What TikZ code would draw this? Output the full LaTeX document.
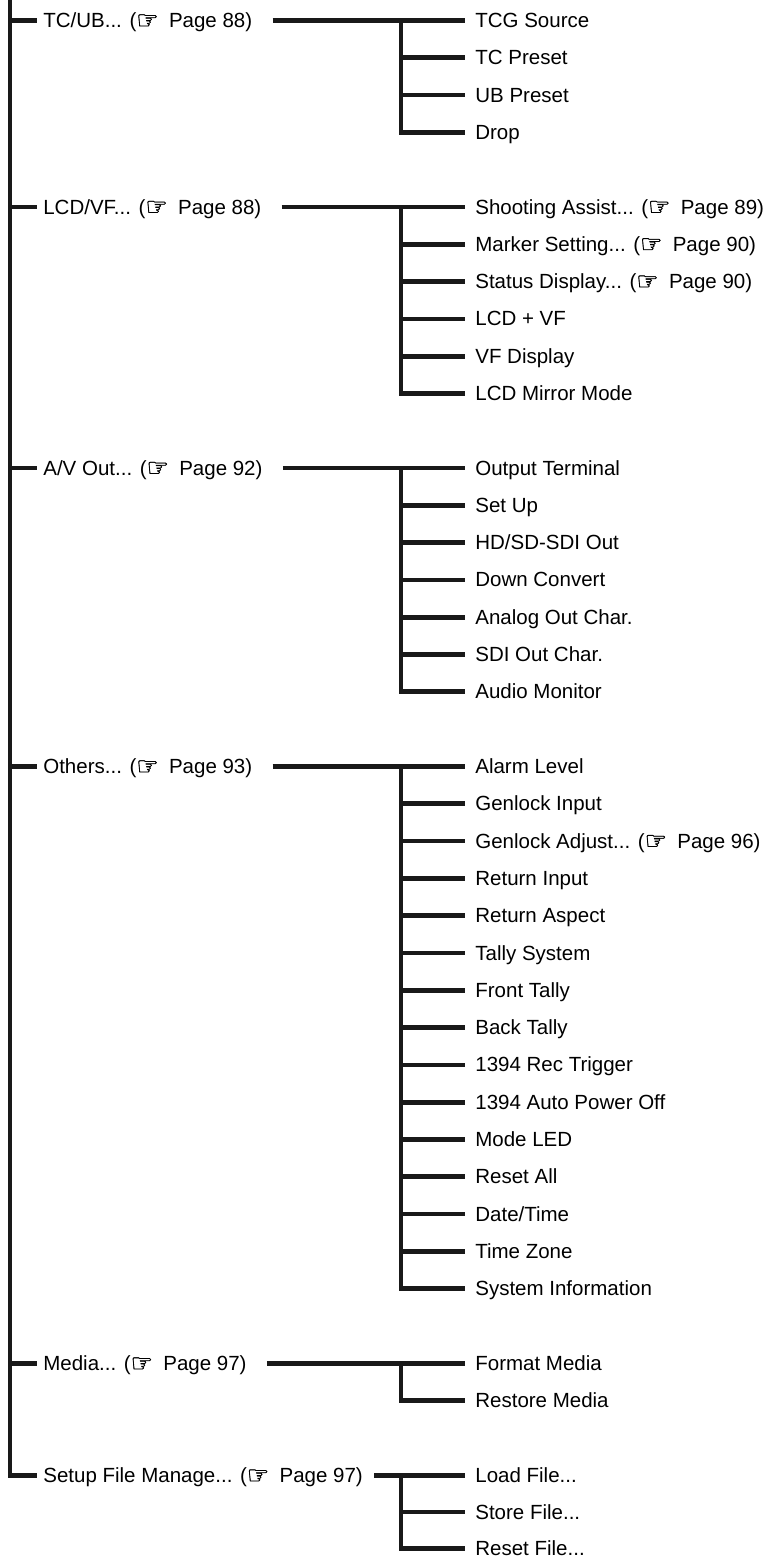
\documentclass[tikz,border=0pt]{standalone}
\usepackage{fontspec}
\setmainfont{Liberation Sans}
\newfontfamily\handfont[FakeBold=1.4]{DejaVu Sans}
\newcommand{\hand}{{\handfont\fontsize{25}{25}\selectfont\raisebox{-1.2pt}{☞}}}
\newcommand{\pg}[1]{(\hand\hspace{0.5em}Page #1)}
\begin{document}
\begin{tikzpicture}[x=1pt,y=-1pt,line width=4.7pt,
  lbl/.style={anchor=base west,inner sep=0pt,font=\fontsize{20.5}{24}\selectfont},
  conn/.style={draw=black!90,line join=miter,line cap=butt}]
\useasboundingbox (0,0) rectangle (769,1559);
\coordinate (trunk) at (10,0);

% group 1
\coordinate (kA) at (37,20.5); \coordinate (jA) at (401,20.5);
\node[lbl] (gA) at (41,27.5) {TC/UB... \pg{88}};
\coordinate (eA0) at (465,20.5);   \node[lbl] (sA0) at (473,27.5) {TCG Source};
\coordinate (eA1) at (465,57.8);   \node[lbl] (sA1) at (473,64.8) {TC Preset};
\coordinate (eA2) at (465,95.1);   \node[lbl] (sA2) at (473,102.1) {UB Preset};
\coordinate (eA3) at (465,132.4);  \node[lbl] (sA3) at (473,139.4) {Drop};

% group 2
\coordinate (kB) at (37,207); \coordinate (jB) at (401,207);
\node[lbl] (gB) at (41,214) {LCD/VF... \pg{88}};
\coordinate (eB0) at (465,207);    \node[lbl] (sB0) at (473,214) {Shooting Assist... \pg{89}};
\coordinate (eB1) at (465,244.3);  \node[lbl] (sB1) at (473,251.3) {Marker Setting... \pg{90}};
\coordinate (eB2) at (465,281.6);  \node[lbl] (sB2) at (473,288.6) {Status Display... \pg{90}};
\coordinate (eB3) at (465,318.9);  \node[lbl] (sB3) at (473,325.9) {LCD + VF};
\coordinate (eB4) at (465,356.2);  \node[lbl] (sB4) at (473,363.2) {VF Display};
\coordinate (eB5) at (465,393.5);  \node[lbl] (sB5) at (473,400.5) {LCD Mirror Mode};

% group 3
\coordinate (kC) at (37,468); \coordinate (jC) at (401,468);
\node[lbl] (gC) at (41,475) {A/V Out... \pg{92}};
\coordinate (eC0) at (465,468);    \node[lbl] (sC0) at (473,475) {Output Terminal};
\coordinate (eC1) at (465,505.3);  \node[lbl] (sC1) at (473,512.3) {Set Up};
\coordinate (eC2) at (465,542.6);  \node[lbl] (sC2) at (473,549.6) {HD/SD-SDI Out};
\coordinate (eC3) at (465,579.9);  \node[lbl] (sC3) at (473,586.9) {Down Convert};
\coordinate (eC4) at (465,617.2);  \node[lbl] (sC4) at (473,624.2) {Analog Out Char.};
\coordinate (eC5) at (465,654.5);  \node[lbl] (sC5) at (473,661.5) {SDI Out Char.};
\coordinate (eC6) at (465,691.8);  \node[lbl] (sC6) at (473,698.8) {Audio Monitor};

% group 4
\coordinate (kD) at (37,766.5); \coordinate (jD) at (401,766.5);
\node[lbl] (gD) at (41,773.5) {Others... \pg{93}};
\coordinate (eD0) at (465,766.5);   \node[lbl] (sD0) at (473,773.5) {Alarm Level};
\coordinate (eD1) at (465,803.8);   \node[lbl] (sD1) at (473,810.8) {Genlock Input};
\coordinate (eD2) at (465,841.1);   \node[lbl] (sD2) at (473,848.1) {Genlock Adjust... \pg{96}};
\coordinate (eD3) at (465,878.4);   \node[lbl] (sD3) at (473,885.4) {Return Input};
\coordinate (eD4) at (465,915.7);   \node[lbl] (sD4) at (473,922.7) {Return Aspect};
\coordinate (eD5) at (465,953);     \node[lbl] (sD5) at (473,960) {Tally System};
\coordinate (eD6) at (465,990.3);   \node[lbl] (sD6) at (473,997.3) {Front Tally};
\coordinate (eD7) at (465,1027.6);  \node[lbl] (sD7) at (473,1034.6) {Back Tally};
\coordinate (eD8) at (465,1064.9);  \node[lbl] (sD8) at (473,1071.9) {1394 Rec Trigger};
\coordinate (eD9) at (465,1102.2);  \node[lbl] (sD9) at (473,1109.2) {1394 Auto Power Off};
\coordinate (eDa) at (465,1139.5);  \node[lbl] (sDa) at (473,1146.5) {Mode LED};
\coordinate (eDb) at (465,1176.8);  \node[lbl] (sDb) at (473,1183.8) {Reset All};
\coordinate (eDc) at (465,1214.1);  \node[lbl] (sDc) at (473,1221.1) {Date/Time};
\coordinate (eDd) at (465,1251.4);  \node[lbl] (sDd) at (473,1258.4) {Time Zone};
\coordinate (eDe) at (465,1288.7);  \node[lbl] (sDe) at (473,1295.7) {System Information};

% group 5
\coordinate (kE) at (37,1363.5); \coordinate (jE) at (401,1363.5);
\node[lbl] (gE) at (41,1370.5) {Media... \pg{97}};
\coordinate (eE0) at (465,1363.5);  \node[lbl] (sE0) at (473,1370.5) {Format Media};
\coordinate (eE1) at (465,1400.5);  \node[lbl] (sE1) at (473,1407.5) {Restore Media};

% group 6
\coordinate (kF) at (37,1475.5); \coordinate (jF) at (401,1475.5);
\node[lbl] (gF) at (41,1482.5) {Setup File Manage... \pg{97}};
\coordinate (eF0) at (465,1475.5);  \node[lbl] (sF0) at (473,1482.5) {Load File...};
\coordinate (eF1) at (465,1512);    \node[lbl] (sF1) at (473,1519) {Store File...};
\coordinate (eF2) at (465,1548.5);  \node[lbl] (sF2) at (473,1555.3) {Reset File...};

% trunk
\draw[conn] (trunk) |- (kF);
\foreach \g in {A,B,C,D,E} {\draw[conn] (trunk |- k\g) -- (k\g);}

% group connectors
\draw[conn] (gA.east |- jA) ++(18,0) -- (eA0);
\draw[conn] (gB.east |- jB) ++(18,0) -- (eB0);
\draw[conn] (gC.east |- jC) ++(18,0) -- (eC0);
\draw[conn] (gD.east |- jD) ++(18,0) -- (eD0);
\draw[conn] (gE.east |- jE) ++(18,0) -- (eE0);
\draw[conn] (gF.east |- jF) ++(9,0) -- (eF0);

% sub-branches
\draw[conn] (jA) |- (eA3);
\foreach \i in {1,2} {\draw[conn] (jA |- eA\i) -- (eA\i);}
\draw[conn] (jB) |- (eB5);
\foreach \i in {1,...,4} {\draw[conn] (jB |- eB\i) -- (eB\i);}
\draw[conn] (jC) |- (eC6);
\foreach \i in {1,...,5} {\draw[conn] (jC |- eC\i) -- (eC\i);}
\draw[conn] (jD) |- (eDe);
\foreach \i in {1,2,3,4,5,6,7,8,9,a,b,c,d} {\draw[conn] (jD |- eD\i) -- (eD\i);}
\draw[conn] (jE) |- (eE1);
\draw[conn] (jF) |- (eF2);
\draw[conn] (jF |- eF1) -- (eF1);
\end{tikzpicture}
\end{document}
